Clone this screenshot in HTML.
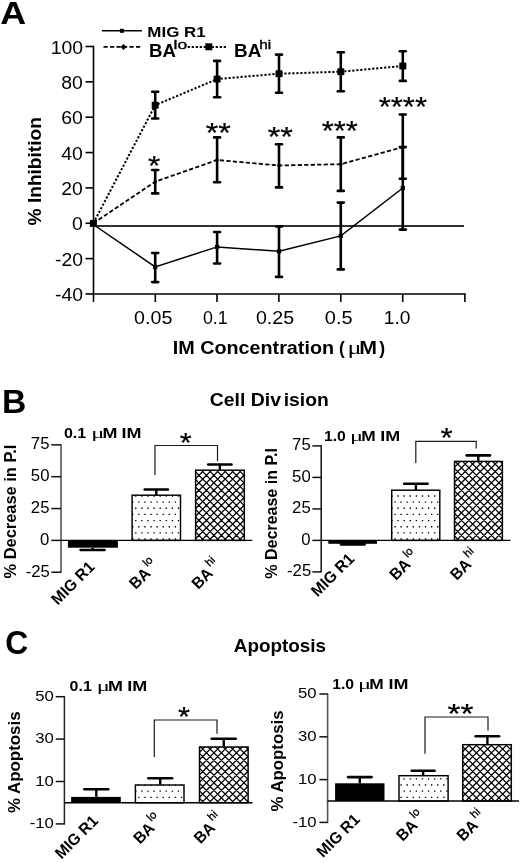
<!DOCTYPE html>
<html><head><meta charset="utf-8"><style>
html,body{margin:0;padding:0;background:#fff;overflow:hidden;}
svg{display:block;filter:grayscale(1);}
text{font-family:"Liberation Sans", sans-serif;fill:#000;}
</style></head><body>
<svg width="520" height="863" viewBox="0 0 520 863">
<defs>
<pattern id="dots" patternUnits="userSpaceOnUse" width="6.1" height="12.3" x="0.7" y="1.5">
<rect x="0" y="0" width="1.4" height="1.4" fill="#000"/><rect x="3.05" y="6.15" width="1.4" height="1.4" fill="#000"/>
</pattern>
<pattern id="hatch" patternUnits="userSpaceOnUse" width="7.5" height="7.5">
<rect width="7.5" height="7.5" fill="#fff"/>
<path d="M-1,1 L1,-1 M0,7.5 L7.5,0 M6.5,8.5 L8.5,6.5 M-1,6.5 L1,8.5 M0,0 L7.5,7.5 M6.5,-1 L8.5,1" stroke="#000" stroke-width="1.4"/>
</pattern>
</defs>
<rect width="520" height="863" fill="#fff"/>
<line x1="93.50" y1="45.70" x2="93.50" y2="302.00" stroke="#000" stroke-width="1.6" />
<line x1="85.50" y1="46.50" x2="93.50" y2="46.50" stroke="#000" stroke-width="1.6" />
<line x1="85.50" y1="81.85" x2="93.50" y2="81.85" stroke="#000" stroke-width="1.6" />
<line x1="85.50" y1="117.20" x2="93.50" y2="117.20" stroke="#000" stroke-width="1.6" />
<line x1="85.50" y1="152.55" x2="93.50" y2="152.55" stroke="#000" stroke-width="1.6" />
<line x1="85.50" y1="187.90" x2="93.50" y2="187.90" stroke="#000" stroke-width="1.6" />
<line x1="85.50" y1="223.25" x2="93.50" y2="223.25" stroke="#000" stroke-width="1.6" />
<line x1="85.50" y1="258.60" x2="93.50" y2="258.60" stroke="#000" stroke-width="1.6" />
<line x1="85.50" y1="293.95" x2="93.50" y2="293.95" stroke="#000" stroke-width="1.6" />
<line x1="93.50" y1="293.95" x2="465.70" y2="293.95" stroke="#000" stroke-width="1.6" />
<line x1="155.30" y1="293.95" x2="155.30" y2="302.00" stroke="#000" stroke-width="1.6" />
<line x1="217.00" y1="293.95" x2="217.00" y2="302.00" stroke="#000" stroke-width="1.6" />
<line x1="278.90" y1="293.95" x2="278.90" y2="302.00" stroke="#000" stroke-width="1.6" />
<line x1="340.80" y1="293.95" x2="340.80" y2="302.00" stroke="#000" stroke-width="1.6" />
<line x1="402.70" y1="293.95" x2="402.70" y2="302.00" stroke="#000" stroke-width="1.6" />
<line x1="464.90" y1="293.95" x2="464.90" y2="302.00" stroke="#000" stroke-width="1.6" />
<line x1="93.50" y1="226.00" x2="464.00" y2="226.00" stroke="#333" stroke-width="2.2" />
<line x1="101.90" y1="30.80" x2="141.90" y2="30.80" stroke="#000" stroke-width="1.6" />
<rect x="119.9" y="28.8" width="4" height="4" fill="#000"/>
<line x1="103.50" y1="46.90" x2="141.90" y2="46.90" stroke="#000" stroke-width="1.6" stroke-dasharray="4.2 2.3"/>
<path d="M123.5 43.9 L126.5 46.9 L123.5 49.9 L120.5 46.9Z" fill="#000"/>
<line x1="187.70" y1="46.90" x2="227.10" y2="46.90" stroke="#000" stroke-width="2" stroke-dasharray="2.2 1.8"/>
<rect x="205.3" y="43.3" width="7" height="7" fill="#000"/>
<polyline points="93.3,223.3 155.2,105.2 217.1,79.1 279.0,73.7 340.8,71.7 402.8,66.0" fill="none" stroke="#000" stroke-width="2.0" stroke-dasharray="2.2 1.8"/>
<polyline points="93.3,223.3 155.2,181.7 217.1,160.0 279.0,165.5 340.8,164.2 402.8,147.1" fill="none" stroke="#000" stroke-width="1.8" stroke-dasharray="4.2 2.3"/>
<polyline points="93.3,224.5 155.2,266.9 217.1,246.9 279.0,251.3 340.8,235.9 402.8,188.0" fill="none" stroke="#000" stroke-width="1.5" />
<line x1="155.20" y1="91.80" x2="155.20" y2="118.50" stroke="#000" stroke-width="2.6" />
<line x1="152.2" y1="91.8" x2="158.2" y2="91.8" stroke="#000" stroke-width="2.6" stroke-linecap="round"/>
<line x1="152.2" y1="118.5" x2="158.2" y2="118.5" stroke="#000" stroke-width="2.6" stroke-linecap="round"/>
<line x1="155.20" y1="170.00" x2="155.20" y2="193.40" stroke="#000" stroke-width="2.6" />
<line x1="152.2" y1="170" x2="158.2" y2="170" stroke="#000" stroke-width="2.6" stroke-linecap="round"/>
<line x1="152.2" y1="193.4" x2="158.2" y2="193.4" stroke="#000" stroke-width="2.6" stroke-linecap="round"/>
<line x1="155.20" y1="253.00" x2="155.20" y2="282.10" stroke="#000" stroke-width="2.6" />
<line x1="152.2" y1="253" x2="158.2" y2="253" stroke="#000" stroke-width="2.6" stroke-linecap="round"/>
<line x1="152.2" y1="282.1" x2="158.2" y2="282.1" stroke="#000" stroke-width="2.6" stroke-linecap="round"/>
<line x1="217.10" y1="60.90" x2="217.10" y2="97.30" stroke="#000" stroke-width="2.6" />
<line x1="214.1" y1="60.9" x2="220.1" y2="60.9" stroke="#000" stroke-width="2.6" stroke-linecap="round"/>
<line x1="214.1" y1="97.3" x2="220.1" y2="97.3" stroke="#000" stroke-width="2.6" stroke-linecap="round"/>
<line x1="217.10" y1="137.40" x2="217.10" y2="182.30" stroke="#000" stroke-width="2.6" />
<line x1="214.1" y1="137.4" x2="220.1" y2="137.4" stroke="#000" stroke-width="2.6" stroke-linecap="round"/>
<line x1="214.1" y1="182.3" x2="220.1" y2="182.3" stroke="#000" stroke-width="2.6" stroke-linecap="round"/>
<line x1="217.10" y1="232.00" x2="217.10" y2="263.50" stroke="#000" stroke-width="2.6" />
<line x1="214.1" y1="232" x2="220.1" y2="232" stroke="#000" stroke-width="2.6" stroke-linecap="round"/>
<line x1="214.1" y1="263.5" x2="220.1" y2="263.5" stroke="#000" stroke-width="2.6" stroke-linecap="round"/>
<line x1="279.00" y1="54.60" x2="279.00" y2="92.80" stroke="#000" stroke-width="2.6" />
<line x1="276.0" y1="54.6" x2="282.0" y2="54.6" stroke="#000" stroke-width="2.6" stroke-linecap="round"/>
<line x1="276.0" y1="92.8" x2="282.0" y2="92.8" stroke="#000" stroke-width="2.6" stroke-linecap="round"/>
<line x1="279.00" y1="144.20" x2="279.00" y2="187.40" stroke="#000" stroke-width="2.6" />
<line x1="276.0" y1="144.2" x2="282.0" y2="144.2" stroke="#000" stroke-width="2.6" stroke-linecap="round"/>
<line x1="276.0" y1="187.4" x2="282.0" y2="187.4" stroke="#000" stroke-width="2.6" stroke-linecap="round"/>
<line x1="279.00" y1="226.50" x2="279.00" y2="276.90" stroke="#000" stroke-width="2.6" />
<line x1="276.0" y1="226.5" x2="282.0" y2="226.5" stroke="#000" stroke-width="2.6" stroke-linecap="round"/>
<line x1="276.0" y1="276.9" x2="282.0" y2="276.9" stroke="#000" stroke-width="2.6" stroke-linecap="round"/>
<line x1="340.80" y1="52.20" x2="340.80" y2="91.30" stroke="#000" stroke-width="2.6" />
<line x1="337.8" y1="52.2" x2="343.8" y2="52.2" stroke="#000" stroke-width="2.6" stroke-linecap="round"/>
<line x1="337.8" y1="91.3" x2="343.8" y2="91.3" stroke="#000" stroke-width="2.6" stroke-linecap="round"/>
<line x1="340.80" y1="137.40" x2="340.80" y2="190.90" stroke="#000" stroke-width="2.6" />
<line x1="337.8" y1="137.4" x2="343.8" y2="137.4" stroke="#000" stroke-width="2.6" stroke-linecap="round"/>
<line x1="337.8" y1="190.9" x2="343.8" y2="190.9" stroke="#000" stroke-width="2.6" stroke-linecap="round"/>
<line x1="340.80" y1="202.60" x2="340.80" y2="269.40" stroke="#000" stroke-width="2.6" />
<line x1="337.8" y1="202.6" x2="343.8" y2="202.6" stroke="#000" stroke-width="2.6" stroke-linecap="round"/>
<line x1="337.8" y1="269.4" x2="343.8" y2="269.4" stroke="#000" stroke-width="2.6" stroke-linecap="round"/>
<line x1="402.80" y1="51.30" x2="402.80" y2="80.90" stroke="#000" stroke-width="2.6" />
<line x1="399.8" y1="51.3" x2="405.8" y2="51.3" stroke="#000" stroke-width="2.6" stroke-linecap="round"/>
<line x1="399.8" y1="80.9" x2="405.8" y2="80.9" stroke="#000" stroke-width="2.6" stroke-linecap="round"/>
<line x1="402.80" y1="114.50" x2="402.80" y2="178.70" stroke="#000" stroke-width="2.6" />
<line x1="399.8" y1="114.5" x2="405.8" y2="114.5" stroke="#000" stroke-width="2.6" stroke-linecap="round"/>
<line x1="399.8" y1="178.7" x2="405.8" y2="178.7" stroke="#000" stroke-width="2.6" stroke-linecap="round"/>
<line x1="402.80" y1="147.10" x2="402.80" y2="229.60" stroke="#000" stroke-width="2.6" />
<line x1="399.8" y1="147.1" x2="405.8" y2="147.1" stroke="#000" stroke-width="2.6" stroke-linecap="round"/>
<line x1="399.8" y1="229.6" x2="405.8" y2="229.6" stroke="#000" stroke-width="2.6" stroke-linecap="round"/>
<rect x="89.9" y="219.9" width="7" height="7" fill="#000"/>
<rect x="151.7" y="101.8" width="7" height="6.8" fill="#000"/>
<circle cx="155.2" cy="181.7" r="1.8" fill="#000"/>
<rect x="153.1" y="264.79999999999995" width="4.2" height="4.2" fill="#000"/>
<rect x="213.6" y="75.69999999999999" width="7" height="6.8" fill="#000"/>
<circle cx="217.1" cy="160.0" r="1.8" fill="#000"/>
<rect x="215.0" y="244.8" width="4.2" height="4.2" fill="#000"/>
<rect x="275.5" y="70.3" width="7" height="6.8" fill="#000"/>
<circle cx="279.0" cy="165.5" r="1.8" fill="#000"/>
<rect x="276.9" y="249.20000000000002" width="4.2" height="4.2" fill="#000"/>
<rect x="337.3" y="68.3" width="7" height="6.8" fill="#000"/>
<circle cx="340.8" cy="164.2" r="1.8" fill="#000"/>
<rect x="338.7" y="233.8" width="4.2" height="4.2" fill="#000"/>
<rect x="399.3" y="62.6" width="7" height="6.8" fill="#000"/>
<circle cx="402.8" cy="147.1" r="1.8" fill="#000"/>
<rect x="400.7" y="185.9" width="4.2" height="4.2" fill="#000"/>
<line x1="61.00" y1="444.15" x2="61.00" y2="572.95" stroke="#707070" stroke-width="1.9" />
<line x1="51.30" y1="444.85" x2="61.00" y2="444.85" stroke="#111" stroke-width="1.5" />
<line x1="51.30" y1="476.70" x2="61.00" y2="476.70" stroke="#111" stroke-width="1.5" />
<line x1="51.30" y1="508.55" x2="61.00" y2="508.55" stroke="#111" stroke-width="1.5" />
<line x1="51.30" y1="540.40" x2="61.00" y2="540.40" stroke="#111" stroke-width="1.5" />
<line x1="51.30" y1="572.25" x2="61.00" y2="572.25" stroke="#111" stroke-width="1.5" />
<rect x="67.9" y="540.40" width="50.00" height="7.30" fill="#000"/>
<line x1="92.60" y1="547.70" x2="92.60" y2="550.00" stroke="#000" stroke-width="2.4" />
<line x1="80.60" y1="550" x2="104.60" y2="550" stroke="#000" stroke-width="2.6" stroke-linecap="round"/>
<clipPath id="c1"><rect x="131.90" y="495.00" width="48.80" height="45.40"/></clipPath>
<g clip-path="url(#c1)">
<path d="M129.00 483.00h1.35v1.35h-1.35zM135.10 483.00h1.35v1.35h-1.35zM141.20 483.00h1.35v1.35h-1.35zM147.30 483.00h1.35v1.35h-1.35zM153.40 483.00h1.35v1.35h-1.35zM159.50 483.00h1.35v1.35h-1.35zM165.60 483.00h1.35v1.35h-1.35zM171.70 483.00h1.35v1.35h-1.35zM177.80 483.00h1.35v1.35h-1.35zM125.95 489.15h1.35v1.35h-1.35zM132.05 489.15h1.35v1.35h-1.35zM138.15 489.15h1.35v1.35h-1.35zM144.25 489.15h1.35v1.35h-1.35zM150.35 489.15h1.35v1.35h-1.35zM156.45 489.15h1.35v1.35h-1.35zM162.55 489.15h1.35v1.35h-1.35zM168.65 489.15h1.35v1.35h-1.35zM174.75 489.15h1.35v1.35h-1.35zM180.85 489.15h1.35v1.35h-1.35zM129.00 495.30h1.35v1.35h-1.35zM135.10 495.30h1.35v1.35h-1.35zM141.20 495.30h1.35v1.35h-1.35zM147.30 495.30h1.35v1.35h-1.35zM153.40 495.30h1.35v1.35h-1.35zM159.50 495.30h1.35v1.35h-1.35zM165.60 495.30h1.35v1.35h-1.35zM171.70 495.30h1.35v1.35h-1.35zM177.80 495.30h1.35v1.35h-1.35zM125.95 501.45h1.35v1.35h-1.35zM132.05 501.45h1.35v1.35h-1.35zM138.15 501.45h1.35v1.35h-1.35zM144.25 501.45h1.35v1.35h-1.35zM150.35 501.45h1.35v1.35h-1.35zM156.45 501.45h1.35v1.35h-1.35zM162.55 501.45h1.35v1.35h-1.35zM168.65 501.45h1.35v1.35h-1.35zM174.75 501.45h1.35v1.35h-1.35zM180.85 501.45h1.35v1.35h-1.35zM129.00 507.60h1.35v1.35h-1.35zM135.10 507.60h1.35v1.35h-1.35zM141.20 507.60h1.35v1.35h-1.35zM147.30 507.60h1.35v1.35h-1.35zM153.40 507.60h1.35v1.35h-1.35zM159.50 507.60h1.35v1.35h-1.35zM165.60 507.60h1.35v1.35h-1.35zM171.70 507.60h1.35v1.35h-1.35zM177.80 507.60h1.35v1.35h-1.35zM125.95 513.75h1.35v1.35h-1.35zM132.05 513.75h1.35v1.35h-1.35zM138.15 513.75h1.35v1.35h-1.35zM144.25 513.75h1.35v1.35h-1.35zM150.35 513.75h1.35v1.35h-1.35zM156.45 513.75h1.35v1.35h-1.35zM162.55 513.75h1.35v1.35h-1.35zM168.65 513.75h1.35v1.35h-1.35zM174.75 513.75h1.35v1.35h-1.35zM180.85 513.75h1.35v1.35h-1.35zM129.00 519.90h1.35v1.35h-1.35zM135.10 519.90h1.35v1.35h-1.35zM141.20 519.90h1.35v1.35h-1.35zM147.30 519.90h1.35v1.35h-1.35zM153.40 519.90h1.35v1.35h-1.35zM159.50 519.90h1.35v1.35h-1.35zM165.60 519.90h1.35v1.35h-1.35zM171.70 519.90h1.35v1.35h-1.35zM177.80 519.90h1.35v1.35h-1.35zM125.95 526.05h1.35v1.35h-1.35zM132.05 526.05h1.35v1.35h-1.35zM138.15 526.05h1.35v1.35h-1.35zM144.25 526.05h1.35v1.35h-1.35zM150.35 526.05h1.35v1.35h-1.35zM156.45 526.05h1.35v1.35h-1.35zM162.55 526.05h1.35v1.35h-1.35zM168.65 526.05h1.35v1.35h-1.35zM174.75 526.05h1.35v1.35h-1.35zM180.85 526.05h1.35v1.35h-1.35zM129.00 532.20h1.35v1.35h-1.35zM135.10 532.20h1.35v1.35h-1.35zM141.20 532.20h1.35v1.35h-1.35zM147.30 532.20h1.35v1.35h-1.35zM153.40 532.20h1.35v1.35h-1.35zM159.50 532.20h1.35v1.35h-1.35zM165.60 532.20h1.35v1.35h-1.35zM171.70 532.20h1.35v1.35h-1.35zM177.80 532.20h1.35v1.35h-1.35zM125.95 538.35h1.35v1.35h-1.35zM132.05 538.35h1.35v1.35h-1.35zM138.15 538.35h1.35v1.35h-1.35zM144.25 538.35h1.35v1.35h-1.35zM150.35 538.35h1.35v1.35h-1.35zM156.45 538.35h1.35v1.35h-1.35zM162.55 538.35h1.35v1.35h-1.35zM168.65 538.35h1.35v1.35h-1.35zM174.75 538.35h1.35v1.35h-1.35zM180.85 538.35h1.35v1.35h-1.35z" fill="#000"/>
</g>
<rect x="132.10" y="495.20" width="48.40" height="45.20" fill="none" stroke="#000" stroke-width="1.45"/>
<line x1="156.30" y1="495.00" x2="156.30" y2="489.50" stroke="#000" stroke-width="2.4" />
<line x1="144.70" y1="489.5" x2="167.90" y2="489.5" stroke="#000" stroke-width="2.6" stroke-linecap="round"/>
<clipPath id="c2"><rect x="195.40" y="470.00" width="49.10" height="70.40"/></clipPath>
<g clip-path="url(#c2)">
<path d="M183.75 468.00L109.35 542.40M191.25 468.00L116.85 542.40M198.75 468.00L124.35 542.40M206.25 468.00L131.85 542.40M213.75 468.00L139.35 542.40M221.25 468.00L146.85 542.40M228.75 468.00L154.35 542.40M236.25 468.00L161.85 542.40M243.75 468.00L169.35 542.40M251.25 468.00L176.85 542.40M258.75 468.00L184.35 542.40M266.25 468.00L191.85 542.40M273.75 468.00L199.35 542.40M281.25 468.00L206.85 542.40M288.75 468.00L214.35 542.40M296.25 468.00L221.85 542.40M303.75 468.00L229.35 542.40M311.25 468.00L236.85 542.40M318.75 468.00L244.35 542.40M109.10 468.00L183.50 542.40M116.60 468.00L191.00 542.40M124.10 468.00L198.50 542.40M131.60 468.00L206.00 542.40M139.10 468.00L213.50 542.40M146.60 468.00L221.00 542.40M154.10 468.00L228.50 542.40M161.60 468.00L236.00 542.40M169.10 468.00L243.50 542.40M176.60 468.00L251.00 542.40M184.10 468.00L258.50 542.40M191.60 468.00L266.00 542.40M199.10 468.00L273.50 542.40M206.60 468.00L281.00 542.40M214.10 468.00L288.50 542.40M221.60 468.00L296.00 542.40M229.10 468.00L303.50 542.40M236.60 468.00L311.00 542.40M244.10 468.00L318.50 542.40" stroke="#000" stroke-width="1.25" fill="none"/>
</g>
<rect x="195.60" y="470.20" width="48.70" height="70.20" fill="none" stroke="#000" stroke-width="1.45"/>
<line x1="219.85" y1="470.00" x2="219.85" y2="464.50" stroke="#000" stroke-width="2.4" />
<line x1="208.20" y1="464.5" x2="231.50" y2="464.5" stroke="#000" stroke-width="2.6" stroke-linecap="round"/>
<line x1="61.00" y1="540.40" x2="252.30" y2="540.40" stroke="#000" stroke-width="1.35" />
<polyline points="155,475 155,445.5 217.5,445.5 217.5,461.3" fill="none" stroke="#1a1a1a" stroke-width="1.2"/>
<line x1="321.20" y1="445.20" x2="321.20" y2="572.60" stroke="#111" stroke-width="1.5" />
<line x1="312.30" y1="445.90" x2="321.20" y2="445.90" stroke="#111" stroke-width="1.5" />
<line x1="312.30" y1="477.40" x2="321.20" y2="477.40" stroke="#111" stroke-width="1.5" />
<line x1="312.30" y1="508.90" x2="321.20" y2="508.90" stroke="#111" stroke-width="1.5" />
<line x1="312.30" y1="540.40" x2="321.20" y2="540.40" stroke="#111" stroke-width="1.5" />
<line x1="312.30" y1="571.90" x2="321.20" y2="571.90" stroke="#111" stroke-width="1.5" />
<rect x="328.3" y="540.40" width="48.70" height="3.40" fill="#000"/>
<line x1="352.80" y1="543.80" x2="352.80" y2="544.40" stroke="#000" stroke-width="2.4" />
<line x1="341.00" y1="544.4" x2="364.60" y2="544.4" stroke="#000" stroke-width="2.6" stroke-linecap="round"/>
<clipPath id="c3"><rect x="391.50" y="490.00" width="48.50" height="50.40"/></clipPath>
<g clip-path="url(#c3)">
<path d="M391.30 483.00h1.35v1.35h-1.35zM397.40 483.00h1.35v1.35h-1.35zM403.50 483.00h1.35v1.35h-1.35zM409.60 483.00h1.35v1.35h-1.35zM415.70 483.00h1.35v1.35h-1.35zM421.80 483.00h1.35v1.35h-1.35zM427.90 483.00h1.35v1.35h-1.35zM434.00 483.00h1.35v1.35h-1.35zM440.10 483.00h1.35v1.35h-1.35zM388.25 489.15h1.35v1.35h-1.35zM394.35 489.15h1.35v1.35h-1.35zM400.45 489.15h1.35v1.35h-1.35zM406.55 489.15h1.35v1.35h-1.35zM412.65 489.15h1.35v1.35h-1.35zM418.75 489.15h1.35v1.35h-1.35zM424.85 489.15h1.35v1.35h-1.35zM430.95 489.15h1.35v1.35h-1.35zM437.05 489.15h1.35v1.35h-1.35zM391.30 495.30h1.35v1.35h-1.35zM397.40 495.30h1.35v1.35h-1.35zM403.50 495.30h1.35v1.35h-1.35zM409.60 495.30h1.35v1.35h-1.35zM415.70 495.30h1.35v1.35h-1.35zM421.80 495.30h1.35v1.35h-1.35zM427.90 495.30h1.35v1.35h-1.35zM434.00 495.30h1.35v1.35h-1.35zM440.10 495.30h1.35v1.35h-1.35zM388.25 501.45h1.35v1.35h-1.35zM394.35 501.45h1.35v1.35h-1.35zM400.45 501.45h1.35v1.35h-1.35zM406.55 501.45h1.35v1.35h-1.35zM412.65 501.45h1.35v1.35h-1.35zM418.75 501.45h1.35v1.35h-1.35zM424.85 501.45h1.35v1.35h-1.35zM430.95 501.45h1.35v1.35h-1.35zM437.05 501.45h1.35v1.35h-1.35zM391.30 507.60h1.35v1.35h-1.35zM397.40 507.60h1.35v1.35h-1.35zM403.50 507.60h1.35v1.35h-1.35zM409.60 507.60h1.35v1.35h-1.35zM415.70 507.60h1.35v1.35h-1.35zM421.80 507.60h1.35v1.35h-1.35zM427.90 507.60h1.35v1.35h-1.35zM434.00 507.60h1.35v1.35h-1.35zM440.10 507.60h1.35v1.35h-1.35zM388.25 513.75h1.35v1.35h-1.35zM394.35 513.75h1.35v1.35h-1.35zM400.45 513.75h1.35v1.35h-1.35zM406.55 513.75h1.35v1.35h-1.35zM412.65 513.75h1.35v1.35h-1.35zM418.75 513.75h1.35v1.35h-1.35zM424.85 513.75h1.35v1.35h-1.35zM430.95 513.75h1.35v1.35h-1.35zM437.05 513.75h1.35v1.35h-1.35zM391.30 519.90h1.35v1.35h-1.35zM397.40 519.90h1.35v1.35h-1.35zM403.50 519.90h1.35v1.35h-1.35zM409.60 519.90h1.35v1.35h-1.35zM415.70 519.90h1.35v1.35h-1.35zM421.80 519.90h1.35v1.35h-1.35zM427.90 519.90h1.35v1.35h-1.35zM434.00 519.90h1.35v1.35h-1.35zM440.10 519.90h1.35v1.35h-1.35zM388.25 526.05h1.35v1.35h-1.35zM394.35 526.05h1.35v1.35h-1.35zM400.45 526.05h1.35v1.35h-1.35zM406.55 526.05h1.35v1.35h-1.35zM412.65 526.05h1.35v1.35h-1.35zM418.75 526.05h1.35v1.35h-1.35zM424.85 526.05h1.35v1.35h-1.35zM430.95 526.05h1.35v1.35h-1.35zM437.05 526.05h1.35v1.35h-1.35zM391.30 532.20h1.35v1.35h-1.35zM397.40 532.20h1.35v1.35h-1.35zM403.50 532.20h1.35v1.35h-1.35zM409.60 532.20h1.35v1.35h-1.35zM415.70 532.20h1.35v1.35h-1.35zM421.80 532.20h1.35v1.35h-1.35zM427.90 532.20h1.35v1.35h-1.35zM434.00 532.20h1.35v1.35h-1.35zM440.10 532.20h1.35v1.35h-1.35zM388.25 538.35h1.35v1.35h-1.35zM394.35 538.35h1.35v1.35h-1.35zM400.45 538.35h1.35v1.35h-1.35zM406.55 538.35h1.35v1.35h-1.35zM412.65 538.35h1.35v1.35h-1.35zM418.75 538.35h1.35v1.35h-1.35zM424.85 538.35h1.35v1.35h-1.35zM430.95 538.35h1.35v1.35h-1.35zM437.05 538.35h1.35v1.35h-1.35z" fill="#000"/>
</g>
<rect x="391.70" y="490.20" width="48.10" height="50.20" fill="none" stroke="#000" stroke-width="1.45"/>
<line x1="415.90" y1="490.00" x2="415.90" y2="483.80" stroke="#000" stroke-width="2.4" />
<line x1="404.20" y1="483.8" x2="427.60" y2="483.8" stroke="#000" stroke-width="2.6" stroke-linecap="round"/>
<clipPath id="c4"><rect x="454.30" y="461.20" width="48.30" height="79.20"/></clipPath>
<g clip-path="url(#c4)">
<path d="M447.55 459.20L364.35 542.40M455.05 459.20L371.85 542.40M462.55 459.20L379.35 542.40M470.05 459.20L386.85 542.40M477.55 459.20L394.35 542.40M485.05 459.20L401.85 542.40M492.55 459.20L409.35 542.40M500.05 459.20L416.85 542.40M507.55 459.20L424.35 542.40M515.05 459.20L431.85 542.40M522.55 459.20L439.35 542.40M530.05 459.20L446.85 542.40M537.55 459.20L454.35 542.40M545.05 459.20L461.85 542.40M552.55 459.20L469.35 542.40M560.05 459.20L476.85 542.40M567.55 459.20L484.35 542.40M575.05 459.20L491.85 542.40M582.55 459.20L499.35 542.40M590.05 459.20L506.85 542.40M362.80 459.20L446.00 542.40M370.30 459.20L453.50 542.40M377.80 459.20L461.00 542.40M385.30 459.20L468.50 542.40M392.80 459.20L476.00 542.40M400.30 459.20L483.50 542.40M407.80 459.20L491.00 542.40M415.30 459.20L498.50 542.40M422.80 459.20L506.00 542.40M430.30 459.20L513.50 542.40M437.80 459.20L521.00 542.40M445.30 459.20L528.50 542.40M452.80 459.20L536.00 542.40M460.30 459.20L543.50 542.40M467.80 459.20L551.00 542.40M475.30 459.20L558.50 542.40M482.80 459.20L566.00 542.40M490.30 459.20L573.50 542.40M497.80 459.20L581.00 542.40M505.30 459.20L588.50 542.40" stroke="#000" stroke-width="1.25" fill="none"/>
</g>
<rect x="454.50" y="461.40" width="47.90" height="79.00" fill="none" stroke="#000" stroke-width="1.45"/>
<line x1="478.30" y1="461.20" x2="478.30" y2="455.40" stroke="#000" stroke-width="2.4" />
<line x1="466.60" y1="455.4" x2="490.00" y2="455.4" stroke="#000" stroke-width="2.6" stroke-linecap="round"/>
<line x1="321.20" y1="540.40" x2="510.50" y2="540.40" stroke="#000" stroke-width="1.35" />
<polyline points="415.8,463 415.8,441.3 476.2,441.3 476.2,448.5" fill="none" stroke="#1a1a1a" stroke-width="1.2"/>
<line x1="64.40" y1="696.00" x2="64.40" y2="824.60" stroke="#222" stroke-width="1.5" />
<line x1="55.70" y1="696.70" x2="64.40" y2="696.70" stroke="#111" stroke-width="1.5" />
<line x1="55.70" y1="739.10" x2="64.40" y2="739.10" stroke="#111" stroke-width="1.5" />
<line x1="55.70" y1="781.50" x2="64.40" y2="781.50" stroke="#111" stroke-width="1.5" />
<line x1="55.70" y1="823.90" x2="64.40" y2="823.90" stroke="#111" stroke-width="1.5" />
<rect x="71.1" y="796.90" width="49.70" height="5.80" fill="#000"/>
<line x1="96.30" y1="796.90" x2="96.30" y2="789.20" stroke="#000" stroke-width="2.4" />
<line x1="84.30" y1="789.2" x2="108.30" y2="789.2" stroke="#000" stroke-width="2.6" stroke-linecap="round"/>
<clipPath id="c5"><rect x="135.20" y="784.80" width="49.00" height="17.90"/></clipPath>
<g clip-path="url(#c5)">
<path d="M135.10 778.20h1.35v1.35h-1.35zM141.20 778.20h1.35v1.35h-1.35zM147.30 778.20h1.35v1.35h-1.35zM153.40 778.20h1.35v1.35h-1.35zM159.50 778.20h1.35v1.35h-1.35zM165.60 778.20h1.35v1.35h-1.35zM171.70 778.20h1.35v1.35h-1.35zM177.80 778.20h1.35v1.35h-1.35zM183.90 778.20h1.35v1.35h-1.35zM132.05 784.35h1.35v1.35h-1.35zM138.15 784.35h1.35v1.35h-1.35zM144.25 784.35h1.35v1.35h-1.35zM150.35 784.35h1.35v1.35h-1.35zM156.45 784.35h1.35v1.35h-1.35zM162.55 784.35h1.35v1.35h-1.35zM168.65 784.35h1.35v1.35h-1.35zM174.75 784.35h1.35v1.35h-1.35zM180.85 784.35h1.35v1.35h-1.35zM135.10 790.50h1.35v1.35h-1.35zM141.20 790.50h1.35v1.35h-1.35zM147.30 790.50h1.35v1.35h-1.35zM153.40 790.50h1.35v1.35h-1.35zM159.50 790.50h1.35v1.35h-1.35zM165.60 790.50h1.35v1.35h-1.35zM171.70 790.50h1.35v1.35h-1.35zM177.80 790.50h1.35v1.35h-1.35zM183.90 790.50h1.35v1.35h-1.35zM132.05 796.65h1.35v1.35h-1.35zM138.15 796.65h1.35v1.35h-1.35zM144.25 796.65h1.35v1.35h-1.35zM150.35 796.65h1.35v1.35h-1.35zM156.45 796.65h1.35v1.35h-1.35zM162.55 796.65h1.35v1.35h-1.35zM168.65 796.65h1.35v1.35h-1.35zM174.75 796.65h1.35v1.35h-1.35zM180.85 796.65h1.35v1.35h-1.35zM135.10 802.80h1.35v1.35h-1.35zM141.20 802.80h1.35v1.35h-1.35zM147.30 802.80h1.35v1.35h-1.35zM153.40 802.80h1.35v1.35h-1.35zM159.50 802.80h1.35v1.35h-1.35zM165.60 802.80h1.35v1.35h-1.35zM171.70 802.80h1.35v1.35h-1.35zM177.80 802.80h1.35v1.35h-1.35zM183.90 802.80h1.35v1.35h-1.35zM132.05 808.95h1.35v1.35h-1.35zM138.15 808.95h1.35v1.35h-1.35zM144.25 808.95h1.35v1.35h-1.35zM150.35 808.95h1.35v1.35h-1.35zM156.45 808.95h1.35v1.35h-1.35zM162.55 808.95h1.35v1.35h-1.35zM168.65 808.95h1.35v1.35h-1.35zM174.75 808.95h1.35v1.35h-1.35zM180.85 808.95h1.35v1.35h-1.35z" fill="#000"/>
</g>
<rect x="135.40" y="785.00" width="48.60" height="17.70" fill="none" stroke="#000" stroke-width="1.45"/>
<line x1="160.20" y1="784.80" x2="160.20" y2="778.20" stroke="#000" stroke-width="2.4" />
<line x1="148.30" y1="778.2" x2="172.10" y2="778.2" stroke="#000" stroke-width="2.6" stroke-linecap="round"/>
<clipPath id="c6"><rect x="199.30" y="746.80" width="49.00" height="55.90"/></clipPath>
<g clip-path="url(#c6)">
<path d="M191.95 744.80L132.05 804.70M199.45 744.80L139.55 804.70M206.95 744.80L147.05 804.70M214.45 744.80L154.55 804.70M221.95 744.80L162.05 804.70M229.45 744.80L169.55 804.70M236.95 744.80L177.05 804.70M244.45 744.80L184.55 804.70M251.95 744.80L192.05 804.70M259.45 744.80L199.55 804.70M266.95 744.80L207.05 804.70M274.45 744.80L214.55 804.70M281.95 744.80L222.05 804.70M289.45 744.80L229.55 804.70M296.95 744.80L237.05 804.70M304.45 744.80L244.55 804.70M311.95 744.80L252.05 804.70M130.90 744.80L190.80 804.70M138.40 744.80L198.30 804.70M145.90 744.80L205.80 804.70M153.40 744.80L213.30 804.70M160.90 744.80L220.80 804.70M168.40 744.80L228.30 804.70M175.90 744.80L235.80 804.70M183.40 744.80L243.30 804.70M190.90 744.80L250.80 804.70M198.40 744.80L258.30 804.70M205.90 744.80L265.80 804.70M213.40 744.80L273.30 804.70M220.90 744.80L280.80 804.70M228.40 744.80L288.30 804.70M235.90 744.80L295.80 804.70M243.40 744.80L303.30 804.70M250.90 744.80L310.80 804.70" stroke="#000" stroke-width="1.25" fill="none"/>
</g>
<rect x="199.50" y="747.00" width="48.60" height="55.70" fill="none" stroke="#000" stroke-width="1.45"/>
<line x1="223.75" y1="746.80" x2="223.75" y2="738.80" stroke="#000" stroke-width="2.4" />
<line x1="211.70" y1="738.8" x2="235.80" y2="738.8" stroke="#000" stroke-width="2.6" stroke-linecap="round"/>
<line x1="64.40" y1="802.70" x2="252.50" y2="802.70" stroke="#000" stroke-width="1.35" />
<polyline points="154.3,757 154.3,720 217,720 217,733.8" fill="none" stroke="#1a1a1a" stroke-width="1.2"/>
<line x1="327.60" y1="693.30" x2="327.60" y2="823.10" stroke="#555" stroke-width="1.6" />
<line x1="319.40" y1="694.00" x2="327.60" y2="694.00" stroke="#111" stroke-width="1.5" />
<line x1="319.40" y1="736.80" x2="327.60" y2="736.80" stroke="#111" stroke-width="1.5" />
<line x1="319.40" y1="779.60" x2="327.60" y2="779.60" stroke="#111" stroke-width="1.5" />
<line x1="319.40" y1="822.40" x2="327.60" y2="822.40" stroke="#111" stroke-width="1.5" />
<rect x="335.1" y="783.30" width="49.40" height="17.70" fill="#000"/>
<line x1="359.80" y1="783.30" x2="359.80" y2="777.10" stroke="#000" stroke-width="2.4" />
<line x1="348.00" y1="777.1" x2="371.60" y2="777.1" stroke="#000" stroke-width="2.6" stroke-linecap="round"/>
<clipPath id="c7"><rect x="398.80" y="775.50" width="49.50" height="25.50"/></clipPath>
<g clip-path="url(#c7)">
<path d="M397.40 765.90h1.35v1.35h-1.35zM403.50 765.90h1.35v1.35h-1.35zM409.60 765.90h1.35v1.35h-1.35zM415.70 765.90h1.35v1.35h-1.35zM421.80 765.90h1.35v1.35h-1.35zM427.90 765.90h1.35v1.35h-1.35zM434.00 765.90h1.35v1.35h-1.35zM440.10 765.90h1.35v1.35h-1.35zM446.20 765.90h1.35v1.35h-1.35zM394.35 772.05h1.35v1.35h-1.35zM400.45 772.05h1.35v1.35h-1.35zM406.55 772.05h1.35v1.35h-1.35zM412.65 772.05h1.35v1.35h-1.35zM418.75 772.05h1.35v1.35h-1.35zM424.85 772.05h1.35v1.35h-1.35zM430.95 772.05h1.35v1.35h-1.35zM437.05 772.05h1.35v1.35h-1.35zM443.15 772.05h1.35v1.35h-1.35zM449.25 772.05h1.35v1.35h-1.35zM397.40 778.20h1.35v1.35h-1.35zM403.50 778.20h1.35v1.35h-1.35zM409.60 778.20h1.35v1.35h-1.35zM415.70 778.20h1.35v1.35h-1.35zM421.80 778.20h1.35v1.35h-1.35zM427.90 778.20h1.35v1.35h-1.35zM434.00 778.20h1.35v1.35h-1.35zM440.10 778.20h1.35v1.35h-1.35zM446.20 778.20h1.35v1.35h-1.35zM394.35 784.35h1.35v1.35h-1.35zM400.45 784.35h1.35v1.35h-1.35zM406.55 784.35h1.35v1.35h-1.35zM412.65 784.35h1.35v1.35h-1.35zM418.75 784.35h1.35v1.35h-1.35zM424.85 784.35h1.35v1.35h-1.35zM430.95 784.35h1.35v1.35h-1.35zM437.05 784.35h1.35v1.35h-1.35zM443.15 784.35h1.35v1.35h-1.35zM449.25 784.35h1.35v1.35h-1.35zM397.40 790.50h1.35v1.35h-1.35zM403.50 790.50h1.35v1.35h-1.35zM409.60 790.50h1.35v1.35h-1.35zM415.70 790.50h1.35v1.35h-1.35zM421.80 790.50h1.35v1.35h-1.35zM427.90 790.50h1.35v1.35h-1.35zM434.00 790.50h1.35v1.35h-1.35zM440.10 790.50h1.35v1.35h-1.35zM446.20 790.50h1.35v1.35h-1.35zM394.35 796.65h1.35v1.35h-1.35zM400.45 796.65h1.35v1.35h-1.35zM406.55 796.65h1.35v1.35h-1.35zM412.65 796.65h1.35v1.35h-1.35zM418.75 796.65h1.35v1.35h-1.35zM424.85 796.65h1.35v1.35h-1.35zM430.95 796.65h1.35v1.35h-1.35zM437.05 796.65h1.35v1.35h-1.35zM443.15 796.65h1.35v1.35h-1.35zM449.25 796.65h1.35v1.35h-1.35z" fill="#000"/>
</g>
<rect x="399.00" y="775.70" width="49.10" height="25.30" fill="none" stroke="#000" stroke-width="1.45"/>
<line x1="423.15" y1="775.50" x2="423.15" y2="770.80" stroke="#000" stroke-width="2.4" />
<line x1="411.70" y1="770.8" x2="434.60" y2="770.8" stroke="#000" stroke-width="2.6" stroke-linecap="round"/>
<clipPath id="c8"><rect x="462.50" y="744.50" width="49.00" height="56.50"/></clipPath>
<g clip-path="url(#c8)">
<path d="M456.75 742.50L396.25 803.00M464.25 742.50L403.75 803.00M471.75 742.50L411.25 803.00M479.25 742.50L418.75 803.00M486.75 742.50L426.25 803.00M494.25 742.50L433.75 803.00M501.75 742.50L441.25 803.00M509.25 742.50L448.75 803.00M516.75 742.50L456.25 803.00M524.25 742.50L463.75 803.00M531.75 742.50L471.25 803.00M539.25 742.50L478.75 803.00M546.75 742.50L486.25 803.00M554.25 742.50L493.75 803.00M561.75 742.50L501.25 803.00M569.25 742.50L508.75 803.00M576.75 742.50L516.25 803.00M391.10 742.50L451.60 803.00M398.60 742.50L459.10 803.00M406.10 742.50L466.60 803.00M413.60 742.50L474.10 803.00M421.10 742.50L481.60 803.00M428.60 742.50L489.10 803.00M436.10 742.50L496.60 803.00M443.60 742.50L504.10 803.00M451.10 742.50L511.60 803.00M458.60 742.50L519.10 803.00M466.10 742.50L526.60 803.00M473.60 742.50L534.10 803.00M481.10 742.50L541.60 803.00M488.60 742.50L549.10 803.00M496.10 742.50L556.60 803.00M503.60 742.50L564.10 803.00M511.10 742.50L571.60 803.00" stroke="#000" stroke-width="1.25" fill="none"/>
</g>
<rect x="462.70" y="744.70" width="48.60" height="56.30" fill="none" stroke="#000" stroke-width="1.45"/>
<line x1="487.40" y1="744.50" x2="487.40" y2="736.30" stroke="#000" stroke-width="2.4" />
<line x1="475.70" y1="736.3" x2="499.10" y2="736.3" stroke="#000" stroke-width="2.6" stroke-linecap="round"/>
<line x1="327.60" y1="801.00" x2="519.00" y2="801.00" stroke="#000" stroke-width="1.35" />
<polyline points="425,753.8 425,717 488,717 488,730.4" fill="none" stroke="#1a1a1a" stroke-width="1.2"/>
<text x="0.28" y="24.30" font-size="32" font-weight="bold" textLength="25.86" lengthAdjust="spacingAndGlyphs" >A</text>
<text x="50.70" y="53.70" font-size="18.3" font-weight="normal" textLength="32.35" lengthAdjust="spacingAndGlyphs" >100</text>
<text x="61.30" y="89.05" font-size="18.3" font-weight="normal" textLength="21.56" lengthAdjust="spacingAndGlyphs" >80</text>
<text x="61.30" y="124.40" font-size="18.3" font-weight="normal" textLength="21.56" lengthAdjust="spacingAndGlyphs" >60</text>
<text x="61.30" y="159.75" font-size="18.3" font-weight="normal" textLength="21.56" lengthAdjust="spacingAndGlyphs" >40</text>
<text x="61.30" y="195.10" font-size="18.3" font-weight="normal" textLength="21.56" lengthAdjust="spacingAndGlyphs" >20</text>
<text x="71.90" y="230.45" font-size="18.3" font-weight="normal" textLength="10.78" lengthAdjust="spacingAndGlyphs" >0</text>
<text x="54.94" y="265.80" font-size="18.3" font-weight="normal" textLength="28.02" lengthAdjust="spacingAndGlyphs" >-20</text>
<text x="54.94" y="301.15" font-size="18.3" font-weight="normal" textLength="28.02" lengthAdjust="spacingAndGlyphs" >-40</text>
<text x="134.13" y="324.20" font-size="18.3" font-weight="normal" textLength="38.21" lengthAdjust="spacingAndGlyphs" >0.05</text>
<text x="202.93" y="324.20" font-size="18.3" font-weight="normal" textLength="24.79" lengthAdjust="spacingAndGlyphs" >0.1</text>
<text x="255.93" y="324.20" font-size="18.3" font-weight="normal" textLength="38.21" lengthAdjust="spacingAndGlyphs" >0.25</text>
<text x="324.81" y="324.20" font-size="18.3" font-weight="normal" textLength="27.75" lengthAdjust="spacingAndGlyphs" >0.5</text>
<text x="383.75" y="324.20" font-size="18.3" font-weight="normal" textLength="26.59" lengthAdjust="spacingAndGlyphs" >1.0</text>
<text x="172.73" y="354.20" font-size="18.4" font-weight="bold" textLength="161.35" lengthAdjust="spacingAndGlyphs" >IM Concentration</text>
<text x="338.96" y="354.20" font-size="18.4" font-weight="bold" textLength="5.76" lengthAdjust="spacingAndGlyphs" >(</text>
<text x="347.47" y="354.20" font-size="18.5" font-weight="normal" textLength="14.14" lengthAdjust="spacingAndGlyphs" ><tspan font-family="Liberation Serif, serif" font-weight="normal" font-size="18.5">&#956;</tspan></text>
<text x="359.24" y="354.20" font-size="18.4" font-weight="bold" textLength="17.80" lengthAdjust="spacingAndGlyphs" >M</text>
<text x="379.20" y="354.20" font-size="18.4" font-weight="bold" textLength="5.88" lengthAdjust="spacingAndGlyphs" >)</text>
<text transform="translate(41.10,225.40) rotate(-90)" x="-0.00" y="0" font-size="18.2" font-weight="bold" textLength="108.25" lengthAdjust="spacingAndGlyphs" >% Inhibition</text>
<text x="147.30" y="36.60" font-size="15.4" font-weight="bold" textLength="58.44" lengthAdjust="spacingAndGlyphs" >MIG R1</text>
<text x="149.05" y="56.70" font-size="17.7" font-weight="bold" textLength="26.82" lengthAdjust="spacingAndGlyphs" >BA</text>
<text x="173.59" y="49.20" font-size="12.4" font-weight="normal" textLength="13.64" lengthAdjust="spacingAndGlyphs" stroke="#000" stroke-width="0.35">lo</text>
<text x="234.13" y="56.70" font-size="17.7" font-weight="bold" textLength="27.25" lengthAdjust="spacingAndGlyphs" >BA</text>
<text x="259.33" y="48.90" font-size="12.0" font-weight="normal" textLength="11.91" lengthAdjust="spacingAndGlyphs" stroke="#000" stroke-width="0.35">hi</text>
<text x="148.03" y="174.50" font-size="27" font-weight="normal" textLength="12.27" lengthAdjust="spacingAndGlyphs" stroke="#000" stroke-width="0.2">*</text>
<text x="205.71" y="141.90" font-size="27" font-weight="normal" textLength="25.00" lengthAdjust="spacingAndGlyphs" stroke="#000" stroke-width="0.2">**</text>
<text x="267.70" y="145.60" font-size="27" font-weight="normal" textLength="25.22" lengthAdjust="spacingAndGlyphs" stroke="#000" stroke-width="0.2">**</text>
<text x="321.76" y="140.30" font-size="27" font-weight="normal" textLength="36.05" lengthAdjust="spacingAndGlyphs" stroke="#000" stroke-width="0.2">***</text>
<text x="378.75" y="115.80" font-size="27" font-weight="normal" textLength="48.23" lengthAdjust="spacingAndGlyphs" stroke="#000" stroke-width="0.2">****</text>
<text x="30.84" y="449.15" font-size="16.4" font-weight="normal" textLength="18.60" lengthAdjust="spacingAndGlyphs" >75</text>
<text x="30.84" y="481.00" font-size="16.4" font-weight="normal" textLength="18.60" lengthAdjust="spacingAndGlyphs" >50</text>
<text x="30.84" y="512.85" font-size="16.4" font-weight="normal" textLength="18.60" lengthAdjust="spacingAndGlyphs" >25</text>
<text x="40.02" y="544.70" font-size="16.4" font-weight="normal" textLength="9.31" lengthAdjust="spacingAndGlyphs" >0</text>
<text x="25.74" y="576.55" font-size="16.4" font-weight="normal" textLength="24.18" lengthAdjust="spacingAndGlyphs" >-25</text>
<text x="179.87" y="451.80" font-size="27" font-weight="normal" textLength="11.92" lengthAdjust="spacingAndGlyphs" stroke="#000" stroke-width="0.2">*</text>
<text x="63.95" y="438.40" font-size="15.3" font-weight="bold" textLength="22.22" lengthAdjust="spacingAndGlyphs" >0.1</text>
<text x="91.22" y="438.40" font-size="15.5" font-weight="normal" textLength="13.16" lengthAdjust="spacingAndGlyphs" ><tspan font-family="Liberation Serif, serif" font-weight="normal" font-size="15.5">&#956;</tspan></text>
<text x="102.43" y="438.40" font-size="15.3" font-weight="bold" textLength="14.95" lengthAdjust="spacingAndGlyphs" >M</text>
<text x="121.63" y="438.40" font-size="15.3" font-weight="bold" textLength="19.95" lengthAdjust="spacingAndGlyphs" >IM</text>
<text transform="translate(15.90,578.50) rotate(-90)" x="-0.00" y="0" font-size="16.4" font-weight="bold" textLength="133.94" lengthAdjust="spacingAndGlyphs" >% Decrease in P.I</text>
<text transform="translate(58.50,605.00) rotate(-45)" x="-0.97" y="0" font-size="16" font-weight="bold" textLength="53.29" lengthAdjust="spacingAndGlyphs" >MIG R1</text>
<text transform="translate(136.50,589.40) rotate(-45)" x="-0.95" y="0" font-size="16.2" font-weight="bold" textLength="22.11" lengthAdjust="spacingAndGlyphs" >BA</text>
<text transform="translate(136.50,589.40) rotate(-45)" x="23.50" y="-8.30" font-size="11.3" font-weight="normal" stroke="#000" stroke-width="0.3">lo</text>
<text transform="translate(198.90,589.40) rotate(-45)" x="-0.95" y="0" font-size="16.2" font-weight="bold" textLength="22.11" lengthAdjust="spacingAndGlyphs" >BA</text>
<text transform="translate(198.90,589.40) rotate(-45)" x="23.50" y="-8.30" font-size="11.3" font-weight="normal" stroke="#000" stroke-width="0.3">hi</text>
<text x="292.14" y="450.20" font-size="16.4" font-weight="normal" textLength="18.60" lengthAdjust="spacingAndGlyphs" >75</text>
<text x="292.14" y="481.70" font-size="16.4" font-weight="normal" textLength="18.60" lengthAdjust="spacingAndGlyphs" >50</text>
<text x="292.14" y="513.20" font-size="16.4" font-weight="normal" textLength="18.60" lengthAdjust="spacingAndGlyphs" >25</text>
<text x="301.32" y="544.70" font-size="16.4" font-weight="normal" textLength="9.31" lengthAdjust="spacingAndGlyphs" >0</text>
<text x="287.04" y="576.20" font-size="16.4" font-weight="normal" textLength="24.18" lengthAdjust="spacingAndGlyphs" >-25</text>
<text x="440.44" y="446.80" font-size="27" font-weight="normal" textLength="12.15" lengthAdjust="spacingAndGlyphs" stroke="#000" stroke-width="0.2">*</text>
<text x="323.97" y="440.90" font-size="15.3" font-weight="bold" textLength="21.90" lengthAdjust="spacingAndGlyphs" >1.0</text>
<text x="349.92" y="440.90" font-size="15.5" font-weight="normal" textLength="13.16" lengthAdjust="spacingAndGlyphs" ><tspan font-family="Liberation Serif, serif" font-weight="normal" font-size="15.5">&#956;</tspan></text>
<text x="361.16" y="440.90" font-size="15.3" font-weight="bold" textLength="14.49" lengthAdjust="spacingAndGlyphs" >M</text>
<text x="380.33" y="440.90" font-size="15.3" font-weight="bold" textLength="19.95" lengthAdjust="spacingAndGlyphs" >IM</text>
<text transform="translate(277.00,578.80) rotate(-90)" x="-0.00" y="0" font-size="16.0" font-weight="bold" textLength="130.75" lengthAdjust="spacingAndGlyphs" >% Decrease in P.I</text>
<text transform="translate(318.30,596.80) rotate(-45)" x="-0.97" y="0" font-size="16" font-weight="bold" textLength="53.29" lengthAdjust="spacingAndGlyphs" >MIG R1</text>
<text transform="translate(396.70,580.40) rotate(-45)" x="-0.95" y="0" font-size="16.2" font-weight="bold" textLength="22.11" lengthAdjust="spacingAndGlyphs" >BA</text>
<text transform="translate(396.70,580.40) rotate(-45)" x="23.50" y="-8.30" font-size="11.3" font-weight="normal" stroke="#000" stroke-width="0.3">lo</text>
<text transform="translate(457.30,580.40) rotate(-45)" x="-0.95" y="0" font-size="16.2" font-weight="bold" textLength="22.11" lengthAdjust="spacingAndGlyphs" >BA</text>
<text transform="translate(457.30,580.40) rotate(-45)" x="23.50" y="-8.30" font-size="11.3" font-weight="normal" stroke="#000" stroke-width="0.3">hi</text>
<text x="35.19" y="701.00" font-size="15.2" font-weight="normal" textLength="18.61" lengthAdjust="spacingAndGlyphs" >50</text>
<text x="35.19" y="743.40" font-size="15.2" font-weight="normal" textLength="18.61" lengthAdjust="spacingAndGlyphs" >30</text>
<text x="35.19" y="785.80" font-size="15.2" font-weight="normal" textLength="18.61" lengthAdjust="spacingAndGlyphs" >10</text>
<text x="29.69" y="828.20" font-size="15.2" font-weight="normal" textLength="24.16" lengthAdjust="spacingAndGlyphs" >-10</text>
<text x="177.96" y="725.60" font-size="27" font-weight="normal" textLength="12.03" lengthAdjust="spacingAndGlyphs" stroke="#000" stroke-width="0.2">*</text>
<text x="69.55" y="691.00" font-size="15.3" font-weight="bold" textLength="22.22" lengthAdjust="spacingAndGlyphs" >0.1</text>
<text x="96.82" y="691.00" font-size="15.5" font-weight="normal" textLength="13.16" lengthAdjust="spacingAndGlyphs" ><tspan font-family="Liberation Serif, serif" font-weight="normal" font-size="15.5">&#956;</tspan></text>
<text x="108.03" y="691.00" font-size="15.3" font-weight="bold" textLength="14.95" lengthAdjust="spacingAndGlyphs" >M</text>
<text x="127.23" y="691.00" font-size="15.3" font-weight="bold" textLength="19.95" lengthAdjust="spacingAndGlyphs" >IM</text>
<text transform="translate(19.80,813.10) rotate(-90)" x="-0.00" y="0" font-size="16.4" font-weight="bold" textLength="101.68" lengthAdjust="spacingAndGlyphs" >% Apoptosis</text>
<text transform="translate(62.10,859.00) rotate(-45)" x="-0.97" y="0" font-size="16" font-weight="bold" textLength="53.29" lengthAdjust="spacingAndGlyphs" >MIG R1</text>
<text transform="translate(140.60,844.20) rotate(-45)" x="-0.95" y="0" font-size="16.2" font-weight="bold" textLength="22.11" lengthAdjust="spacingAndGlyphs" >BA</text>
<text transform="translate(140.60,844.20) rotate(-45)" x="23.50" y="-8.30" font-size="11.3" font-weight="normal" stroke="#000" stroke-width="0.3">lo</text>
<text transform="translate(201.20,843.80) rotate(-45)" x="-0.95" y="0" font-size="16.2" font-weight="bold" textLength="22.11" lengthAdjust="spacingAndGlyphs" >BA</text>
<text transform="translate(201.20,843.80) rotate(-45)" x="23.50" y="-8.30" font-size="11.3" font-weight="normal" stroke="#000" stroke-width="0.3">hi</text>
<text x="297.99" y="698.30" font-size="15.2" font-weight="normal" textLength="18.61" lengthAdjust="spacingAndGlyphs" >50</text>
<text x="297.99" y="741.10" font-size="15.2" font-weight="normal" textLength="18.61" lengthAdjust="spacingAndGlyphs" >30</text>
<text x="297.99" y="783.90" font-size="15.2" font-weight="normal" textLength="18.61" lengthAdjust="spacingAndGlyphs" >10</text>
<text x="292.49" y="826.70" font-size="15.2" font-weight="normal" textLength="24.16" lengthAdjust="spacingAndGlyphs" >-10</text>
<text x="447.56" y="723.10" font-size="27" font-weight="normal" textLength="25.99" lengthAdjust="spacingAndGlyphs" stroke="#000" stroke-width="0.2">**</text>
<text x="332.17" y="689.10" font-size="15.3" font-weight="bold" textLength="21.90" lengthAdjust="spacingAndGlyphs" >1.0</text>
<text x="358.12" y="689.10" font-size="15.5" font-weight="normal" textLength="13.16" lengthAdjust="spacingAndGlyphs" ><tspan font-family="Liberation Serif, serif" font-weight="normal" font-size="15.5">&#956;</tspan></text>
<text x="369.36" y="689.10" font-size="15.3" font-weight="bold" textLength="14.49" lengthAdjust="spacingAndGlyphs" >M</text>
<text x="388.53" y="689.10" font-size="15.3" font-weight="bold" textLength="19.95" lengthAdjust="spacingAndGlyphs" >IM</text>
<text transform="translate(282.90,811.50) rotate(-90)" x="-0.00" y="0" font-size="16.4" font-weight="bold" textLength="100.97" lengthAdjust="spacingAndGlyphs" >% Apoptosis</text>
<text transform="translate(323.80,857.50) rotate(-45)" x="-0.97" y="0" font-size="16" font-weight="bold" textLength="53.29" lengthAdjust="spacingAndGlyphs" >MIG R1</text>
<text transform="translate(403.50,841.30) rotate(-45)" x="-0.95" y="0" font-size="16.2" font-weight="bold" textLength="22.11" lengthAdjust="spacingAndGlyphs" >BA</text>
<text transform="translate(403.50,841.30) rotate(-45)" x="23.50" y="-8.30" font-size="11.3" font-weight="normal" stroke="#000" stroke-width="0.3">lo</text>
<text transform="translate(464.00,841.30) rotate(-45)" x="-0.95" y="0" font-size="16.2" font-weight="bold" textLength="22.11" lengthAdjust="spacingAndGlyphs" >BA</text>
<text transform="translate(464.00,841.30) rotate(-45)" x="23.50" y="-8.30" font-size="11.3" font-weight="normal" stroke="#000" stroke-width="0.3">hi</text>
<text x="1.93" y="412.50" font-size="32.5" font-weight="bold" textLength="24.31" lengthAdjust="spacingAndGlyphs" >B</text>
<text x="209.76" y="406.40" font-size="18.8" font-weight="bold" textLength="71.32" lengthAdjust="spacingAndGlyphs" >Cell Div</text>
<text x="283.77" y="406.40" font-size="18.8" font-weight="bold" textLength="44.98" lengthAdjust="spacingAndGlyphs" >ision</text>
<text x="5.34" y="653.80" font-size="33.0" font-weight="bold" textLength="22.98" lengthAdjust="spacingAndGlyphs" >C</text>
<text x="233.89" y="651.60" font-size="18.7" font-weight="bold" textLength="92.17" lengthAdjust="spacingAndGlyphs" >Apoptosis</text>
</svg>
</body></html>
